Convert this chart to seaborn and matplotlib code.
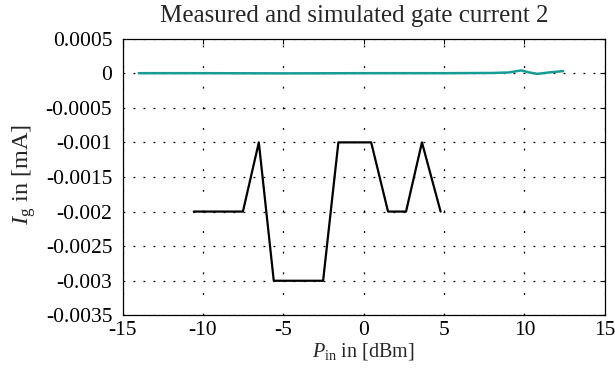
import numpy as np
import pandas as pd
import seaborn as sns
import matplotlib
matplotlib.use("Agg")
import matplotlib.pyplot as plt

# Measured gate current (black)
meas_x = [-10.58, -7.52, -6.53, -5.60, -2.53, -1.58, 0.46, 1.51, 2.63, 3.62, 4.78]
meas_y = [-0.002, -0.002, -0.001, -0.003, -0.003, -0.001, -0.001, -0.002, -0.002, -0.001, -0.002]

# Simulated gate current (teal)
sim_x = [-14.0, -10.0, -5.0, 0.0, 5.0, 8.0, 9.0, 9.8, 10.3, 10.8, 11.5, 12.4]
sim_y = [0.0, 0.0, -0.000003, 0.0, 0.0, 0.000003, 0.00001, 0.00004, 0.00001, -0.00001, 0.00001, 0.00003]

title = "Measured and simulated gate current 2"
xticks = [-15, -10, -5, 0, 5, 10, 15]
yticks = [0.0005, 0, -0.0005, -0.001, -0.0015, -0.002, -0.0025, -0.003, -0.0035]
ytick_labels = ["0.0005", "0", "-0.0005", "-0.001", "-0.0015", "-0.002", "-0.0025", "-0.003", "-0.0035"]

sns.set_theme(style="white")
plt.rcParams['font.family'] = ['Liberation Serif', 'DejaVu Serif']
plt.rcParams['mathtext.fontset'] = 'custom'
plt.rcParams['mathtext.rm'] = 'Liberation Serif'
plt.rcParams['mathtext.it'] = 'Liberation Serif:italic'

fig = plt.figure(figsize=(6.15, 3.71), dpi=100)
ax = fig.add_axes([0.1995, 0.150, 0.784, 0.746])

sim_df = pd.DataFrame({"x": sim_x, "y": sim_y})
meas_df = pd.DataFrame({"x": meas_x, "y": meas_y})
sns.lineplot(data=sim_df, x="x", y="y", ax=ax, color="#179c95", linewidth=1.8, sort=False)
sns.lineplot(data=meas_df, x="x", y="y", ax=ax, color="black", linewidth=1.6, sort=False)

ax.set_xlim(-15, 15)
ax.set_ylim(-0.0035, 0.0005)
ax.set_xticks(xticks)
ax.set_xticklabels([str(t) for t in xticks])
ax.set_yticks(yticks)
ax.set_yticklabels(ytick_labels)
ax.tick_params(direction="in", length=3.5, width=0.8, top=True, right=True, labelsize=15.5, colors="black")
ax.tick_params(axis="y", pad=7.5)
ax.tick_params(axis="x", pad=4)
ax.xaxis.grid(True, color="black", linestyle=(0, (1.5, 15)), linewidth=0.9)
ax.yaxis.grid(True, color="black", linestyle=(0, (1.5, 6.5)), linewidth=0.9)
for s in ax.spines.values():
    s.set_color("black")
    s.set_linewidth(0.9)
ax.set_title(title, fontsize=18, pad=12, x=0.48)
ax.set_xlabel(r"$P_{\mathrm{in}}$ in [dBm]", fontsize=14.5)
ax.xaxis.set_label_coords(0.5, -0.092)
ax.set_ylabel(r"$I_{\mathrm{g}}$ in [mA]", fontsize=17.5)
ax.yaxis.set_label_coords(-0.175, 0.51)

fig.savefig("out.png", dpi=100)
